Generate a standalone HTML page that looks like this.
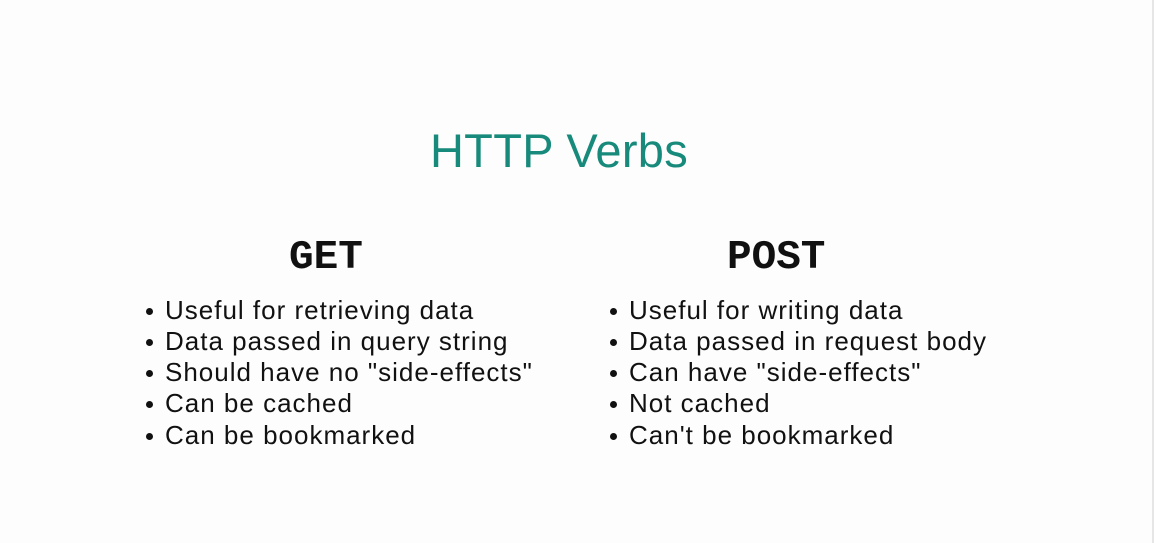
<!DOCTYPE html>
<html><head><meta charset="utf-8"><style>
body{margin:0;width:1154px;height:543px;background:#fdfdfd;position:relative;overflow:hidden;font-family:"Liberation Sans",sans-serif}
.edge{position:absolute;right:0;top:0;width:2px;height:543px;background:#e6e6e6}
.t{position:absolute;left:0;width:1118px;text-align:center;top:123px;font-size:47px;color:#178a7b;white-space:nowrap;letter-spacing:0.3px}
.h{position:absolute;font-family:"Liberation Mono",monospace;font-weight:bold;font-size:41px;color:#111;top:235px}
.l{position:absolute;font-size:26px;color:#111;white-space:nowrap;letter-spacing:1px}
.l::before{content:"";position:absolute;left:-19px;top:13px;width:7px;height:7px;border-radius:50%;background:#111}
</style></head><body>
<div class="edge"></div>
<div class="t">HTTP Verbs</div>
<div class="h" style="left:289px">GET</div>
<div class="h" style="left:727px">POST</div>
<div class="l" style="left:165px;top:295px">Useful for retrieving data</div>
<div class="l" style="left:165px;top:326px">Data passed in query string</div>
<div class="l" style="left:165px;top:357px">Should have no "side-effects"</div>
<div class="l" style="left:165px;top:388px">Can be cached</div>
<div class="l" style="left:165px;top:420px">Can be bookmarked</div>
<div class="l" style="left:629px;top:295px">Useful for writing data</div>
<div class="l" style="left:629px;top:326px">Data passed in request body</div>
<div class="l" style="left:629px;top:357px">Can have "side-effects"</div>
<div class="l" style="left:629px;top:388px">Not cached</div>
<div class="l" style="left:629px;top:420px">Can't be bookmarked</div>
</body></html>
